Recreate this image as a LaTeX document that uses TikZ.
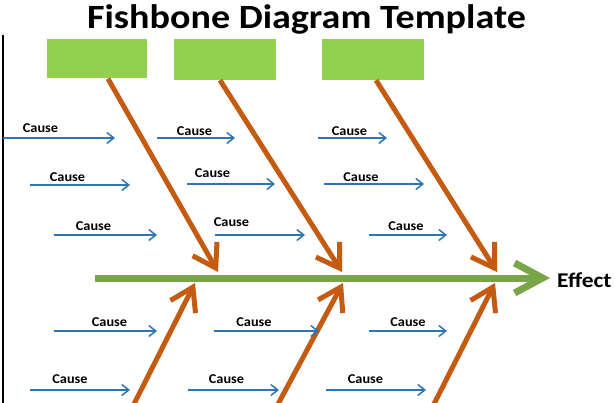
\documentclass[tikz,border=0pt]{standalone}
\usepackage{fontspec}
\setmainfont{Carlito}
\usetikzlibrary{arrows.meta}
\definecolor{boxgreen}{HTML}{92D050}
\definecolor{spinegreen}{HTML}{77A548}
\definecolor{boneorange}{HTML}{C55A11}
\definecolor{causeblue}{HTML}{2E75B6}
\tikzset{
  catbox/.style={fill=boxgreen, draw=none, minimum width=100pt, minimum height=39pt, inner sep=0pt},
  bone/.style={draw=boneorange, line width=5pt, -{Straight Barb[length=22pt,width=28pt,line width=5pt]}},
  spine/.style={draw=spinegreen, line width=7pt, -{Straight Barb[length=28pt,width=30pt,line width=7pt]}},
  causearrow/.style={draw=causeblue, line width=1.5pt, -{Straight Barb[length=7pt,width=11pt,line width=1.5pt]}},
  causelabel/.style={inner sep=0pt, font=\bfseries\fontsize{13.5}{13.5}\selectfont},
}
\newcommand{\causeitem}[7]{%
  \coordinate (#1s) at (#2,#4);
  \coordinate (#1e) at (#3,#4);
  \draw[causearrow] (#1s) -- (#1e);
  \node[causelabel] (#1l) at (#5,#6) {\scalebox{1.06}[1]{#7}};
}
\begin{document}
\begin{tikzpicture}[x=1pt,y=-1pt]
\useasboundingbox (0,0) rectangle (615,403);
\clip (0,0) rectangle (615,403);
% title
\node[anchor=base, inner sep=0pt] (title) at (306.5,29)
  {\scalebox{1.12}[1]{\bfseries\fontsize{34}{34}\selectfont Fishbone Diagram Template}};
% left rule
\coordinate (ltop) at (3,35);
\coordinate (lbot) at (3,405);
\draw[line width=1.2pt] (ltop) -- (lbot);
% category boxes
\node[catbox] (b1) at (97,59) {};
\node[catbox, minimum width=102pt, minimum height=41pt] (b2) at (225,59.5) {};
\node[catbox, minimum width=102pt, minimum height=41pt] (b3) at (373,59.5) {};
% spine
\coordinate (spinestart) at (95,278);
\coordinate (spineend) at (550,278);
\draw[spine] (spinestart) -- (spineend);
\node[anchor=west, inner sep=0pt] (effect) at (557,280)
  {\scalebox{1.12}[1]{\bfseries\fontsize{21}{21}\selectfont Effect}};
% upper bones
\coordinate (u1) at (218,272);
\coordinate (u2) at (342,272);
\coordinate (u3) at (497,272);
\draw[bone] (b1.south -| 108,0) -- (u1);
\draw[bone] (b2.south -| 220,0) -- (u2);
\draw[bone] (b3.south -| 376,0) -- (u3);
% lower bones
\coordinate (d1s) at (133,406);
\coordinate (d2s) at (277,406);
\coordinate (d3s) at (433,406);
\coordinate (d1) at (195,283);
\coordinate (d2) at (343,283);
\coordinate (d3) at (495,283);
\draw[bone] (d1s) -- (d1);
\draw[bone] (d2s) -- (d2);
\draw[bone] (d3s) -- (d3);
% causes upper
\causeitem{ua}{3}{115}{138}{40.5}{128}{Cause}
\causeitem{ub}{157}{235}{138}{194.5}{131}{Cause}
\causeitem{uc}{318}{387}{138}{349.5}{131}{Cause}
\causeitem{ud}{30}{130}{185}{67.5}{177}{Cause}
\causeitem{ue}{187}{275}{184}{212.5}{173}{Cause}
\causeitem{uf}{324}{424}{184}{361}{177}{Cause}
\causeitem{ug}{54}{157}{235}{93.5}{226}{Cause}
\causeitem{uh}{215}{305}{235}{231.5}{222}{Cause}
\causeitem{ui}{369}{447}{235}{406}{226}{Cause}
% causes lower
\causeitem{la}{54}{157}{331}{109.5}{322}{Cause}
\causeitem{lb}{214}{319}{331}{254}{322}{Cause}
\causeitem{lc}{369}{447}{331}{408}{322}{Cause}
\causeitem{ld}{30}{130}{390}{70}{379}{Cause}
\causeitem{le}{188}{279}{390}{226.5}{379}{Cause}
\causeitem{lf}{326}{426}{390}{365.5}{379}{Cause}
\end{tikzpicture}
\end{document}
